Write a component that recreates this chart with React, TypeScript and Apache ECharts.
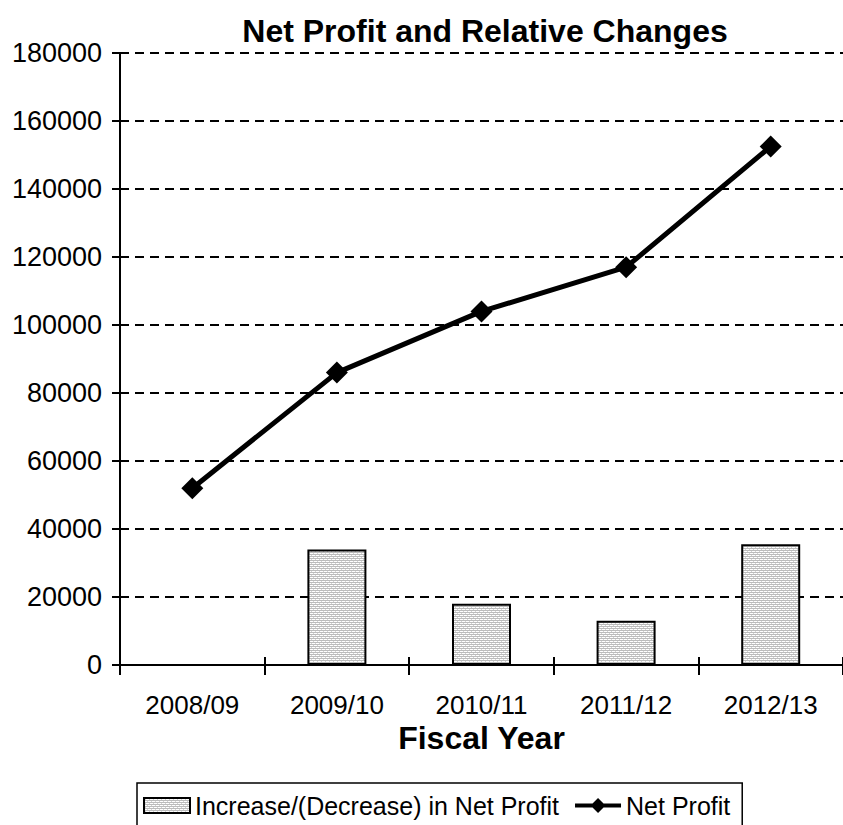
import React, { useEffect, useRef } from "react";
import * as echarts from "echarts";

const fiscalYears = ["2008/09", "2009/10", "2010/11", "2011/12", "2012/13"];
const netProfit = [52000, 86000, 104000, 117000, 152500];
const profitChange: (number | string)[] = ["-", 34000, 18000, 13000, 35500];
const yTicks = { min: 0, max: 180000, interval: 20000 };

const FONT = "'Liberation Sans', Arial, sans-serif";

// legend glyph for the profit line: thick stroke with a diamond in the middle
const LINE_ICON =
  "path://M0,5.5 L17.5,5.5 L23,0 L28.5,5.5 L46,5.5 L46,9.5 L28.5,9.5 L23,15 L17.5,9.5 L0,9.5 Z";

// fine grey stipple used to fill the bars
function makeStipple(): HTMLCanvasElement {
  const c = document.createElement("canvas");
  c.width = 4;
  c.height = 4;
  const ctx = c.getContext("2d")!;
  ctx.fillStyle = "#ffffff";
  ctx.fillRect(0, 0, 4, 4);
  ctx.fillStyle = "#bcbcbc";
  ctx.fillRect(0, 0, 4, 1);
  ctx.fillRect(0, 2, 4, 1);
  ctx.fillStyle = "#d4d4d4";
  ctx.fillRect(1, 1, 1, 1);
  ctx.fillRect(3, 3, 1, 1);
  return c;
}

export default function App() {
  const ref = useRef<HTMLDivElement>(null);

  useEffect(() => {
    if (!ref.current) return;
    const chart = echarts.init(ref.current, null, { renderer: "svg" });
    const stipple = makeStipple();
    const axisStroke = { color: "#000", width: 2 };
    chart.setOption({
      animation: false,
      backgroundColor: "#ffffff",
      title: {
        text: "Net Profit and Relative Changes",
        left: 480,
        textAlign: "center",
        top: 10,
        textStyle: { fontFamily: FONT, fontWeight: "bold", fontSize: 32, color: "#000" },
      },
      grid: { left: 120, top: 53, width: 730, height: 612 },
      xAxis: [
        {
          type: "category",
          data: fiscalYears,
          boundaryGap: true,
          name: "Fiscal Year",
          nameLocation: "middle",
          nameGap: 57,
          nameMoveOverlap: false,
          nameTextStyle: {
            fontFamily: FONT,
            fontWeight: "bold",
            fontSize: 32,
            lineHeight: 32,
            color: "#000",
          },
          axisLine: { lineStyle: axisStroke },
          axisTick: { show: true, length: 10, lineStyle: axisStroke },
          axisLabel: { fontFamily: FONT, fontSize: 26, lineHeight: 26, color: "#000", margin: 27 },
          splitLine: { show: false },
        },
        {
          // inner half of the crossing category ticks
          type: "category",
          data: fiscalYears,
          position: "bottom",
          boundaryGap: true,
          axisLine: { show: false },
          axisTick: { show: true, inside: true, length: 8, lineStyle: axisStroke },
          axisLabel: { show: false },
          splitLine: { show: false },
        },
      ],
      yAxis: [
        {
          type: "value",
          min: yTicks.min,
          max: yTicks.max,
          interval: yTicks.interval,
          axisLine: { show: true, lineStyle: axisStroke },
          axisTick: { show: true, length: 8, lineStyle: axisStroke },
          axisLabel: {
            fontFamily: FONT,
            fontSize: 27,
            color: "#000",
            margin: 18,
            formatter: (v: number) => String(v),
          },
          splitLine: { show: true, lineStyle: { color: "#000", width: 2, type: [9, 6] } },
        },
        {
          // inner half of the crossing value ticks
          type: "value",
          position: "left",
          min: yTicks.min,
          max: yTicks.max,
          interval: yTicks.interval,
          axisLine: { show: false },
          axisTick: { show: true, inside: true, length: 8, lineStyle: axisStroke },
          axisLabel: { show: false },
          splitLine: { show: false },
        },
      ],
      legend: {
        left: 137,
        top: 783,
        orient: "horizontal",
        padding: [10, 12, 40, 6],
        itemGap: 16,
        itemWidth: 46,
        itemHeight: 15,
        borderColor: "#000",
        borderWidth: 1.5,
        textStyle: { fontFamily: FONT, fontSize: 25, color: "#000" },
        data: [
          { name: "Increase/(Decrease) in Net Profit", icon: "rect" },
          { name: "Net Profit", icon: LINE_ICON, itemStyle: { color: "#000", borderWidth: 0 } },
        ],
      },
      series: [
        {
          name: "Increase/(Decrease) in Net Profit",
          type: "bar",
          data: profitChange,
          barWidth: 59,
          itemStyle: {
            color: { image: stipple, repeat: "repeat" },
            borderColor: "#000",
            borderWidth: 2,
          },
        },
        {
          name: "Net Profit",
          type: "line",
          data: netProfit,
          symbol: "diamond",
          symbolSize: 22,
          lineStyle: { color: "#000", width: 5 },
          itemStyle: { color: "#000" },
        },
      ],
    });
    return () => chart.dispose();
  }, []);

  return (
    <div
      ref={ref}
      style={{ position: "fixed", left: 0, top: 0, width: 843, height: 825 }}
    />
  );
}
